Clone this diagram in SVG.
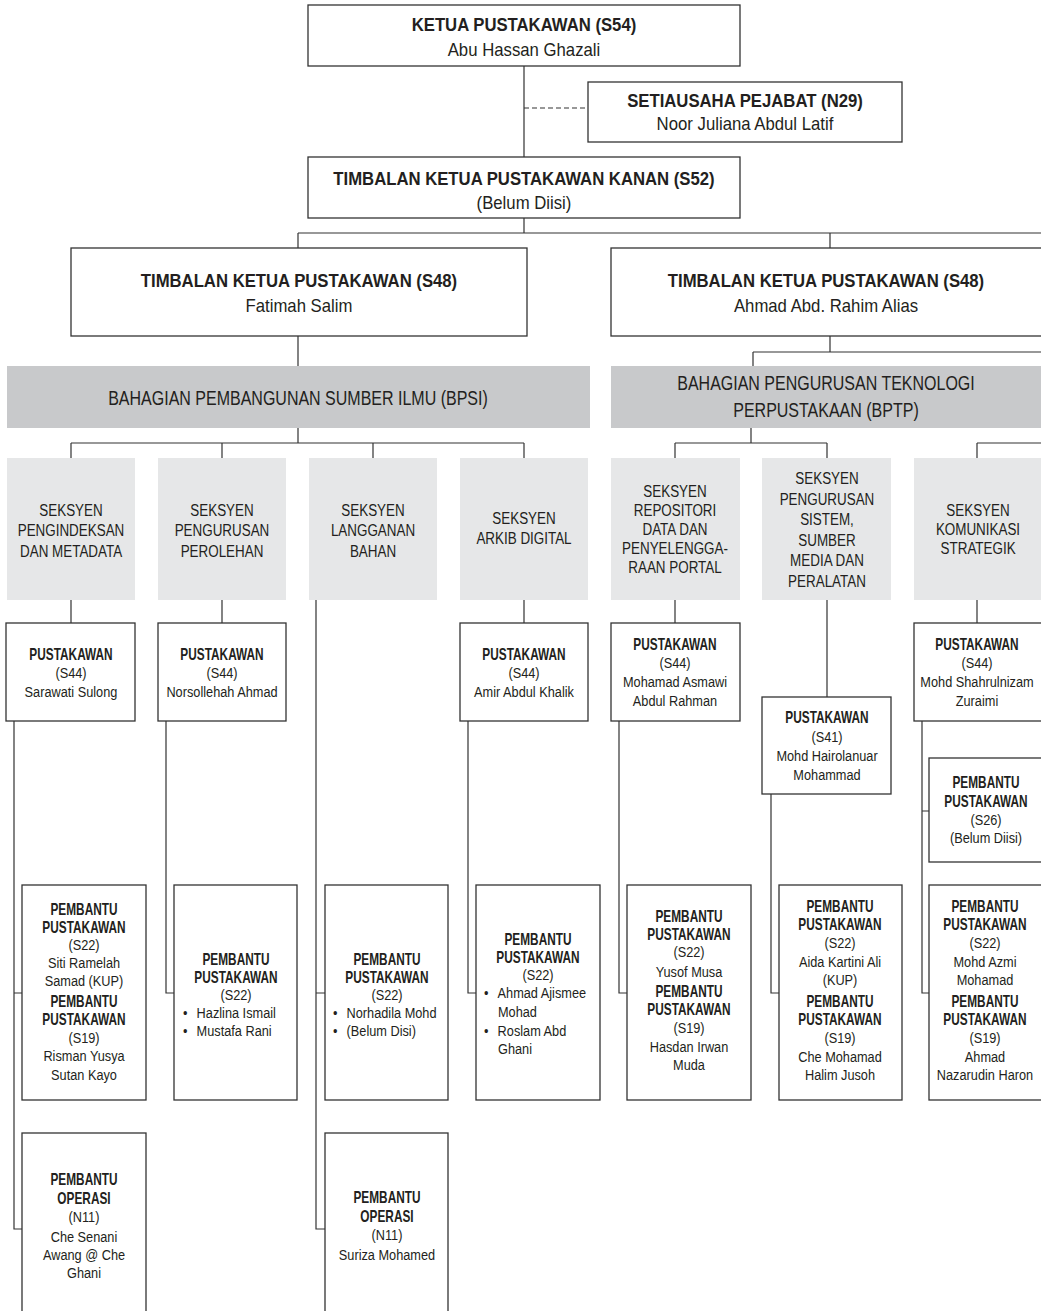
<svg xmlns="http://www.w3.org/2000/svg" width="1041" height="1311" viewBox="0 0 1041 1311">
<style>
text{font-family:"Liberation Sans",Arial,sans-serif;fill:#231f20;text-anchor:middle;transform-box:fill-box;transform-origin:center}
.t1{font-size:19px;font-weight:bold;transform:scaleX(.88)}
.t2{font-size:18px;transform:scaleX(.93)}
.g{font-size:20px;transform:scaleX(.8)}
.s{font-size:17px;transform:scaleX(.79)}
.b{font-size:16px;font-weight:bold;transform:scaleX(.74)}
.r{font-size:15px;transform:scaleX(.85)}
.l{text-anchor:start;transform-origin:left center}
.bx{fill:#fff;stroke:#333;stroke-width:1.3}
.gr{fill:#c8c9cb}
.sec{fill:#e6e7e8}
.ln{fill:none;stroke:#333;stroke-width:1.2}
.dash{fill:none;stroke:#333;stroke-width:1.2;stroke-dasharray:5 3}
</style>
<rect width="1041" height="1311" fill="#fff"/>

<g id="connectors">
<path class="ln" d="M524 66V157M524 218V233M298 233H1041M298 233V248M830 233V248"/>
<path class="dash" d="M524 108H588"/>
<path class="ln" d="M298 336V366M830 336V352M753 352H1041M753 352V366"/>
<path class="ln" d="M298 428V443M71 443H524M71 443V458M222 443V458M373 443V458M524 443V458"/>
<path class="ln" d="M751 428V443M675 443H827M675 443V458M827 443V458M977 443H1041M977 443V458"/>
<path class="ln" d="M71 600V623M222 600V623M524 600V623M675 600V623M827 600V697M977 600V623"/>
<path class="ln" d="M14 721V1229H22M14 993H22"/>
<path class="ln" d="M166 721V993H174"/>
<path class="ln" d="M316 600V1229H325M316 993H325"/>
<path class="ln" d="M468 721V993H476"/>
<path class="ln" d="M619 721V993H627"/>
<path class="ln" d="M771 794V993H779"/>
<path class="ln" d="M922 721V993H929M922 811H929"/>
</g>

<g id="n-ketua">
<rect class="bx" x="308" y="5" width="432" height="61"/>
<text class="t1" x="524" y="31">KETUA PUSTAKAWAN (S54)</text>
<text class="t2" x="524" y="56">Abu Hassan Ghazali</text>
</g>
<g id="n-setiausaha">
<rect class="bx" x="588" y="82" width="314" height="60"/>
<text class="t1" x="745" y="107">SETIAUSAHA PEJABAT (N29)</text>
<text class="t2" x="745" y="130">Noor Juliana Abdul Latif</text>
</g>
<g id="n-kanan">
<rect class="bx" x="308" y="157" width="432" height="61"/>
<text class="t1" x="524" y="185">TIMBALAN KETUA PUSTAKAWAN KANAN (S52)</text>
<text class="t2" x="524" y="209">(Belum Diisi)</text>
</g>
<g id="n-tkp1">
<rect class="bx" x="71" y="248" width="456" height="88"/>
<text class="t1" x="299" y="287">TIMBALAN KETUA PUSTAKAWAN (S48)</text>
<text class="t2" x="299" y="312">Fatimah Salim</text>
</g>
<g id="n-tkp2">
<rect class="bx" x="611" y="248" width="432" height="88"/>
<text class="t1" x="826" y="287">TIMBALAN KETUA PUSTAKAWAN (S48)</text>
<text class="t2" x="826" y="312">Ahmad Abd. Rahim Alias</text>
</g>
<g id="n-bpsi">
<rect class="gr" x="7" y="366" width="583" height="62"/>
<text class="g" x="298" y="405">BAHAGIAN PEMBANGUNAN SUMBER ILMU (BPSI)</text>
</g>
<g id="n-bptp">
<rect class="gr" x="611" y="366" width="431" height="62"/>
<text class="g" x="826" y="390">BAHAGIAN PENGURUSAN TEKNOLOGI</text>
<text class="g" x="826" y="417">PERPUSTAKAAN (BPTP)</text>
</g>

<g id="n-s1">
<rect class="sec" x="7" y="458" width="128" height="142"/>
<text class="s" x="71" y="516">SEKSYEN</text>
<text class="s" x="71" y="536">PENGINDEKSAN</text>
<text class="s" x="71" y="557">DAN METADATA</text>
</g>
<g id="n-s2">
<rect class="sec" x="158" y="458" width="128" height="142"/>
<text class="s" x="222" y="516">SEKSYEN</text>
<text class="s" x="222" y="536">PENGURUSAN</text>
<text class="s" x="222" y="557">PEROLEHAN</text>
</g>
<g id="n-s3">
<rect class="sec" x="309" y="458" width="128" height="142"/>
<text class="s" x="373" y="516">SEKSYEN</text>
<text class="s" x="373" y="536">LANGGANAN</text>
<text class="s" x="373" y="557">BAHAN</text>
</g>
<g id="n-s4">
<rect class="sec" x="460" y="458" width="128" height="142"/>
<text class="s" x="524" y="524">SEKSYEN</text>
<text class="s" x="524" y="544">ARKIB DIGITAL</text>
</g>
<g id="n-s5">
<rect class="sec" x="611" y="458" width="129" height="142"/>
<text class="s" x="675" y="497">SEKSYEN</text>
<text class="s" x="675" y="516">REPOSITORI</text>
<text class="s" x="675" y="535">DATA DAN</text>
<text class="s" x="675" y="554">PENYELENGGA-</text>
<text class="s" x="675" y="573">RAAN PORTAL</text>
</g>
<g id="n-s6">
<rect class="sec" x="762" y="458" width="129" height="142"/>
<text class="s" x="827" y="484">SEKSYEN</text>
<text class="s" x="827" y="505">PENGURUSAN</text>
<text class="s" x="827" y="525">SISTEM,</text>
<text class="s" x="827" y="546">SUMBER</text>
<text class="s" x="827" y="566">MEDIA DAN</text>
<text class="s" x="827" y="587">PERALATAN</text>
</g>
<g id="n-s7">
<rect class="sec" x="914" y="458" width="128" height="142"/>
<text class="s" x="978" y="516">SEKSYEN</text>
<text class="s" x="978" y="535">KOMUNIKASI</text>
<text class="s" x="978" y="554">STRATEGIK</text>
</g>

<g id="n-p1">
<rect class="bx" x="6" y="623" width="129" height="98"/>
<text class="b" x="71" y="660">PUSTAKAWAN</text>
<text class="r" x="71" y="678">(S44)</text>
<text class="r" x="71" y="697">Sarawati Sulong</text>
</g>
<g id="n-p2">
<rect class="bx" x="158" y="623" width="128" height="98"/>
<text class="b" x="222" y="660">PUSTAKAWAN</text>
<text class="r" x="222" y="678">(S44)</text>
<text class="r" x="222" y="697">Norsollehah Ahmad</text>
</g>
<g id="n-p4">
<rect class="bx" x="460" y="623" width="128" height="98"/>
<text class="b" x="524" y="660">PUSTAKAWAN</text>
<text class="r" x="524" y="678">(S44)</text>
<text class="r" x="524" y="697">Amir Abdul Khalik</text>
</g>
<g id="n-p5">
<rect class="bx" x="611" y="623" width="129" height="98"/>
<text class="b" x="675" y="650">PUSTAKAWAN</text>
<text class="r" x="675" y="668">(S44)</text>
<text class="r" x="675" y="687">Mohamad Asmawi</text>
<text class="r" x="675" y="706">Abdul Rahman</text>
</g>
<g id="n-p6">
<rect class="bx" x="762" y="697" width="129" height="97"/>
<text class="b" x="827" y="723">PUSTAKAWAN</text>
<text class="r" x="827" y="742">(S41)</text>
<text class="r" x="827" y="761">Mohd Hairolanuar</text>
<text class="r" x="827" y="780">Mohammad</text>
</g>
<g id="n-p7">
<rect class="bx" x="914" y="623" width="129" height="98"/>
<text class="b" x="977" y="650">PUSTAKAWAN</text>
<text class="r" x="977" y="668">(S44)</text>
<text class="r" x="977" y="687">Mohd Shahrulnizam</text>
<text class="r" x="977" y="706">Zuraimi</text>
</g>
<g id="n-p7b">
<rect class="bx" x="929" y="758" width="122" height="104"/>
<text class="b" x="986" y="788">PEMBANTU</text>
<text class="b" x="986" y="807">PUSTAKAWAN</text>
<text class="r" x="986" y="825">(S26)</text>
<text class="r" x="986" y="843">(Belum Diisi)</text>
</g>

<g id="n-a1">
<rect class="bx" x="22" y="885" width="124" height="215"/>
<text class="b" x="84" y="915">PEMBANTU</text>
<text class="b" x="84" y="933">PUSTAKAWAN</text>
<text class="r" x="84" y="950">(S22)</text>
<text class="r" x="84" y="968">Siti Ramelah</text>
<text class="r" x="84" y="986">Samad (KUP)</text>
<text class="b" x="84" y="1007">PEMBANTU</text>
<text class="b" x="84" y="1025">PUSTAKAWAN</text>
<text class="r" x="84" y="1043">(S19)</text>
<text class="r" x="84" y="1061">Risman Yusya</text>
<text class="r" x="84" y="1080">Sutan Kayo</text>
</g>
<g id="n-a2">
<rect class="bx" x="174" y="885" width="123" height="215"/>
<text class="b" x="236" y="965">PEMBANTU</text>
<text class="b" x="236" y="983">PUSTAKAWAN</text>
<text class="r" x="236" y="1000">(S22)</text>
<text class="r l" x="183" y="1018">•<tspan x="199">Hazlina Ismail</tspan></text>
<text class="r l" x="183" y="1036">•<tspan x="199">Mustafa Rani</tspan></text>
</g>
<g id="n-a3">
<rect class="bx" x="325" y="885" width="123" height="215"/>
<text class="b" x="387" y="965">PEMBANTU</text>
<text class="b" x="387" y="983">PUSTAKAWAN</text>
<text class="r" x="387" y="1000">(S22)</text>
<text class="r l" x="333" y="1018">•<tspan x="349">Norhadila Mohd</tspan></text>
<text class="r l" x="333" y="1036">•<tspan x="349">(Belum Disi)</tspan></text>
</g>
<g id="n-a4">
<rect class="bx" x="476" y="885" width="124" height="215"/>
<text class="b" x="538" y="945">PEMBANTU</text>
<text class="b" x="538" y="963">PUSTAKAWAN</text>
<text class="r" x="538" y="980">(S22)</text>
<text class="r l" x="484" y="998">•<tspan x="500">Ahmad Ajismee</tspan></text>
<text class="r l" x="498" y="1017">Mohad</text>
<text class="r l" x="484" y="1036">•<tspan x="500">Roslam Abd</tspan></text>
<text class="r l" x="498" y="1054">Ghani</text>
</g>
<g id="n-a5">
<rect class="bx" x="627" y="885" width="124" height="215"/>
<text class="b" x="689" y="922">PEMBANTU</text>
<text class="b" x="689" y="940">PUSTAKAWAN</text>
<text class="r" x="689" y="957">(S22)</text>
<text class="r" x="689" y="977">Yusof Musa</text>
<text class="b" x="689" y="997">PEMBANTU</text>
<text class="b" x="689" y="1015">PUSTAKAWAN</text>
<text class="r" x="689" y="1033">(S19)</text>
<text class="r" x="689" y="1052">Hasdan Irwan</text>
<text class="r" x="689" y="1070">Muda</text>
</g>
<g id="n-a6">
<rect class="bx" x="779" y="885" width="123" height="215"/>
<text class="b" x="840" y="912">PEMBANTU</text>
<text class="b" x="840" y="930">PUSTAKAWAN</text>
<text class="r" x="840" y="948">(S22)</text>
<text class="r" x="840" y="967">Aida Kartini Ali</text>
<text class="r" x="840" y="985">(KUP)</text>
<text class="b" x="840" y="1007">PEMBANTU</text>
<text class="b" x="840" y="1025">PUSTAKAWAN</text>
<text class="r" x="840" y="1043">(S19)</text>
<text class="r" x="840" y="1062">Che Mohamad</text>
<text class="r" x="840" y="1080">Halim Jusoh</text>
</g>
<g id="n-a7">
<rect class="bx" x="929" y="885" width="122" height="215"/>
<text class="b" x="985" y="912">PEMBANTU</text>
<text class="b" x="985" y="930">PUSTAKAWAN</text>
<text class="r" x="985" y="948">(S22)</text>
<text class="r" x="985" y="967">Mohd Azmi</text>
<text class="r" x="985" y="985">Mohamad</text>
<text class="b" x="985" y="1007">PEMBANTU</text>
<text class="b" x="985" y="1025">PUSTAKAWAN</text>
<text class="r" x="985" y="1043">(S19)</text>
<text class="r" x="985" y="1062">Ahmad</text>
<text class="r" x="985" y="1080">Nazarudin Haron</text>
</g>

<g id="n-o1">
<rect class="bx" x="22" y="1133" width="124" height="190"/>
<text class="b" x="84" y="1185">PEMBANTU</text>
<text class="b" x="84" y="1204">OPERASI</text>
<text class="r" x="84" y="1222">(N11)</text>
<text class="r" x="84" y="1242">Che Senani</text>
<text class="r" x="84" y="1260">Awang @ Che</text>
<text class="r" x="84" y="1278">Ghani</text>
</g>
<g id="n-o3">
<rect class="bx" x="325" y="1133" width="123" height="190"/>
<text class="b" x="387" y="1203">PEMBANTU</text>
<text class="b" x="387" y="1222">OPERASI</text>
<text class="r" x="387" y="1240">(N11)</text>
<text class="r" x="387" y="1260">Suriza Mohamed</text>
</g>
</svg>
